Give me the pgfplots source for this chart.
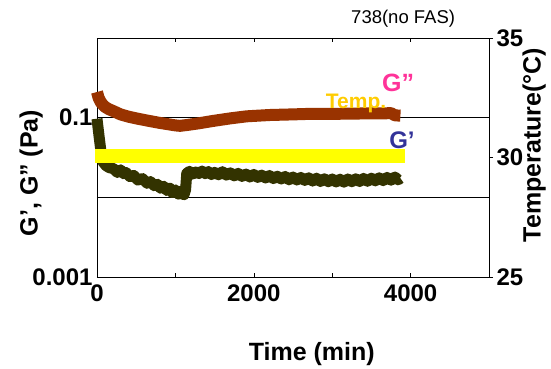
\documentclass[border=0pt]{standalone}
\usepackage{fontspec}
\setmainfont{Liberation Sans}
\usepackage{pgfplots}
\pgfplotsset{compat=1.18}
\usetikzlibrary{calc}
\definecolor{gpp}{HTML}{993300}
\definecolor{gp}{HTML}{333300}
\definecolor{tempc}{HTML}{FFFF00}
\definecolor{lblpink}{HTML}{FF3399}
\definecolor{lbltemp}{HTML}{FFCC00}
\definecolor{lblblue}{HTML}{333399}
\begin{document}
\begin{tikzpicture}
\begin{axis}[
  name=ax,
  scale only axis, width=392pt, height=239pt,
  xmin=0, xmax=5000,
  ymode=log, ymin=0.001, ymax=1,
  xtick={0,1000,2000,3000,4000,5000},
  xticklabels={0,,2000,,4000,},
  ytick={0.001,0.01,0.1,1},
  yticklabels={0.001,,0.1,},
  yminorticks=false,
  ymajorgrids, major grid style={black, line width=0.7pt},
  tick align=inside,
  major tick length=4pt,
  xtick style={black, line width=0.6pt},
  ytick style={draw=none},
  axis line style={black, line width=0.8pt},
  /pgf/number format/assume math mode=true,
  ticklabel style={font=\bfseries\fontsize{24}{24}\selectfont},
  xticklabel style={yshift=-4pt},
  yticklabel style={xshift=-1pt},
  xlabel={Time (min)},
  xlabel style={font=\bfseries\fontsize{25}{25}\selectfont, at={(axis description cs:0.548,-0.322)}, anchor=center},
  ylabel={G’, G” (Pa)},
  ylabel style={font=\bfseries\fontsize{25}{25}\selectfont, at={(axis description cs:-0.168,0.435)}, anchor=center, rotate=0},
  clip=false,
]
\addplot[gpp, line width=12pt, line join=round] coordinates {
(0,0.21) (20,0.178) (50,0.155) (100,0.137) (150,0.128) (200,0.122) (300,0.110)
(400,0.103) (500,0.098) (640,0.092) (800,0.086) (900,0.083) (1000,0.080)
(1060,0.079) (1150,0.081) (1300,0.085) (1480,0.091) (1700,0.098) (1910,0.104)
(2200,0.108) (2500,0.110) (2760,0.112) (3100,0.112) (3400,0.113) (3610,0.113)
(3750,0.114) (3800,0.107) (3870,0.106)
};
\addplot[gp, line width=11pt, line join=round] coordinates {
(0,0.097) (25,0.060) (50,0.038) (75,0.028) (115,0.025) (160,0.0235) (210,0.023)
(260,0.0205) (300,0.0222) (340,0.0198) (370,0.0205) (420,0.0182) (470,0.0188)
(520,0.0165) (580,0.0172) (640,0.0150) (680,0.0158) (730,0.0140) (770,0.0146)
(810,0.0130) (850,0.0138) (890,0.0122) (930,0.0130) (960,0.0115) (1000,0.0124)
(1040,0.0110) (1080,0.0120) (1110,0.0108) (1130,0.0125) (1145,0.0200)
(1180,0.0212) (1220,0.0196) (1260,0.0208) (1300,0.0199) (1340,0.0214)
(1380,0.0198) (1420,0.0211) (1460,0.0193) (1500,0.0206) (1550,0.0192)
(1600,0.0210) (1650,0.0190) (1700,0.0203) (1750,0.0186) (1800,0.0200)
(1850,0.0183) (1900,0.0196) (1950,0.0180) (2000,0.0194) (2050,0.0178)
(2100,0.0190) (2150,0.0175) (2200,0.0188) (2250,0.0172) (2300,0.0184)
(2350,0.0170) (2400,0.0183) (2450,0.0166) (2500,0.0180) (2550,0.0165)
(2600,0.0178) (2650,0.0163) (2700,0.0176) (2750,0.0160) (2800,0.0174)
(2850,0.0158) (2900,0.0171) (2950,0.0157) (3000,0.0170) (3050,0.0156)
(3100,0.0169) (3150,0.0155) (3200,0.0170) (3250,0.0157) (3300,0.0171)
(3350,0.0158) (3400,0.0173) (3450,0.0159) (3500,0.0174) (3550,0.0161)
(3600,0.0176) (3650,0.0162) (3700,0.0178) (3750,0.0164) (3800,0.0180)
(3840,0.0166) (3870,0.0174)
};
\node[font=\fontsize{18.5}{18.5}\selectfont] at (axis description cs:0.781,1.079) {738(no FAS)};
\node[font=\bfseries\fontsize{25}{25}\selectfont, text=lblpink] at (axis description cs:0.768,0.812) {G”};
\node[font=\bfseries\fontsize{21}{21}\selectfont, text=lbltemp] at (axis description cs:0.661,0.728) {Temp.};
\node[font=\bfseries\fontsize{24}{24}\selectfont, text=lblblue] at (axis description cs:0.778,0.573) {G’};
\end{axis}
\begin{axis}[
  scale only axis, width=392pt, height=239pt,
  xmin=0, xmax=5000,
  ymin=25, ymax=35,
  axis x line=none,
  axis y line*=right,
  ytick={25,30,35},
  yticklabels={25,30,35},
  tick align=outside,
  major tick length=4pt,
  ytick style={black, line width=0.6pt},
  axis line style={black, line width=0.8pt},
  /pgf/number format/assume math mode=true,
  ticklabel style={font=\bfseries\fontsize{24}{24}\selectfont},
  ylabel={Temperature(°C)},
  ylabel style={font=\bfseries\fontsize{25}{25}\selectfont, at={(axis description cs:1.115,0.552)}, anchor=center, rotate=0},
  clip=false,
]
\addplot[tempc, line width=14pt] coordinates {(-30,30.08) (3930,30.08)};
\end{axis}
\path[use as bounding box] ($(ax.south west)+(-97pt,-90pt)$) rectangle ($(ax.north east)+(62pt,38pt)$);
\end{tikzpicture}
\end{document}
